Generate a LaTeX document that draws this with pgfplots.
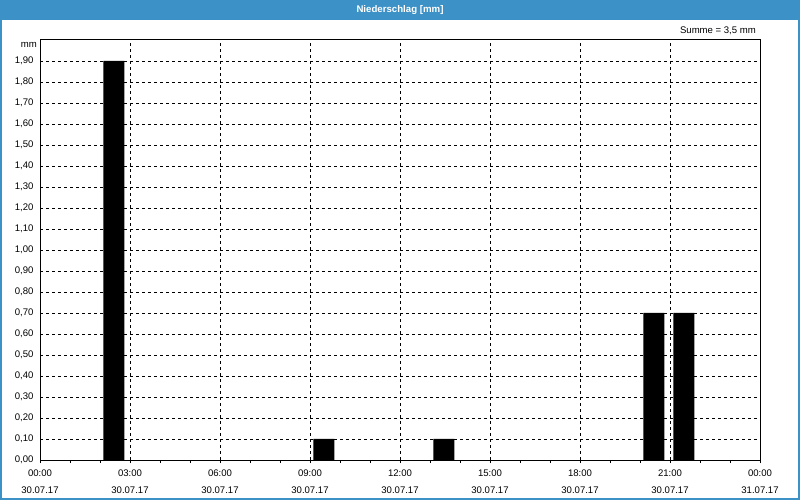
\documentclass[border=0pt]{standalone}
\usepackage{pgfplots}
\pgfplotsset{compat=1.18}
\usepackage{fontspec}
\setmainfont{Liberation Sans}
\definecolor{frameblue}{RGB}{60,145,198}
\begin{document}
\begin{tikzpicture}
\useasboundingbox (-40bp,-40bp) rectangle (760bp,460bp);
\fill[white] (-40bp,-40bp) rectangle (760bp,460bp);
\fill[frameblue] (-40bp,439.5bp) rectangle (760bp,460bp);
\node[text=white,font=\fontsize{9.7}{11}\selectfont\bfseries] at (360bp,449.5bp) {Niederschlag [mm]};
\node[anchor=east,font=\fontsize{9.6}{11}\selectfont,inner sep=0pt] at (716bp,429bp) {Summe = 3,5 mm};
\node[anchor=east,font=\fontsize{9.6}{11}\selectfont,inner sep=0pt] at (-3bp,415bp) {mm};
\begin{axis}[
  at={(0,0)}, anchor=south west,
  scale only axis, width=720bp, height=420bp,
  xmin=0, xmax=24, ymin=0, ymax=2.0,
  xtick={0,3,...,24},
  minor xtick={0,1,...,24},
  xticklabels={{00:00\\30.07.17},{03:00\\30.07.17},{06:00\\30.07.17},{09:00\\30.07.17},{12:00\\30.07.17},{15:00\\30.07.17},{18:00\\30.07.17},{21:00\\30.07.17},{00:00\\31.07.17}},
  xticklabel style={align=center,font=\fontsize{9.6}{17}\selectfont,yshift=-3.5bp},
  ytick={0,0.1,0.2,0.3,0.4,0.5,0.6,0.7,0.8,0.9,1.0,1.1,1.2,1.3,1.4,1.5,1.6,1.7,1.8,1.9},
  yticklabel style={font=\fontsize{9.6}{11}\selectfont,/pgf/number format/.cd,fixed,fixed zerofill,precision=2,use comma,assume math mode=true},
  tick pos=left,
  tick align=outside,
  major tick length=3bp, minor tick length=3bp,
  ytick style={draw=none},
  xtick style={black,line width=0.8bp},
  minor tick style={black,line width=0.8bp},
  xmajorgrids, ymajorgrids,
  major grid style={black,line width=0.8bp,dash pattern=on 3bp off 3bp},
  axis line style={black,line width=1bp},
  ybar, bar width=0.7,
]
\addplot[fill=black,draw=none] coordinates {(2.46,1.9) (9.46,0.1) (13.46,0.1) (20.46,0.7) (21.46,0.7)};
\end{axis}
\draw[frameblue,line width=2bp] (-39bp,-39bp) rectangle (759bp,459bp);
\end{tikzpicture}
\end{document}
